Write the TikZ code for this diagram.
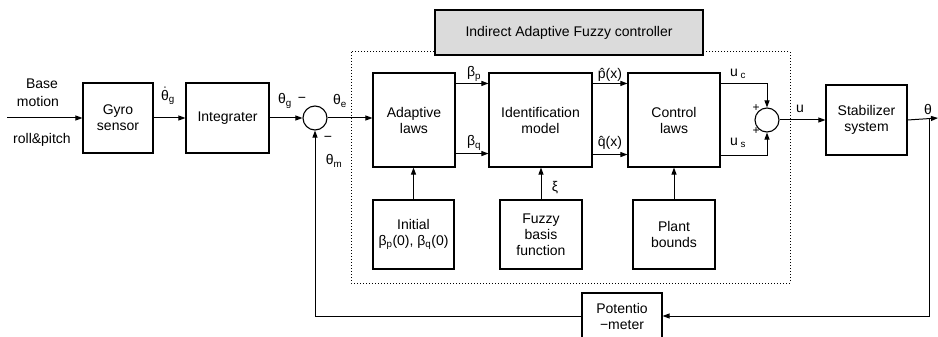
\documentclass[tikz,border=0pt]{standalone}
\usepackage{fontspec}
\setmainfont{Liberation Sans}
\usetikzlibrary{arrows.meta,positioning}
\newcommand{\lsub}[2]{#1\textsubscript{#2}}
\begin{document}
\begin{tikzpicture}[x=1pt,y=-1pt,
  font=\fontsize{14}{16}\selectfont,
  blk/.style={draw,line width=1.1pt,minimum width=#1,align=center,inner sep=1pt},
  sumc/.style={draw,line width=1.1pt,circle,minimum size=24pt,inner sep=0pt},
  lbl/.style={inner sep=0pt},
  conn/.style={line width=1pt,-{Triangle[length=7pt,width=5pt]}},
  wire/.style={line width=1pt}]
\useasboundingbox (0,0) rectangle (938,337);
% dotted controller frame
\draw[dotted,line width=1pt] (351,52) rectangle (790,283);
\node[draw,line width=1.1pt,fill=black!14,minimum width=268pt,minimum height=45pt] (title) at (569,32.5) {Indirect Adaptive Fuzzy controller};
% blocks
\node[blk=70pt,minimum height=70pt] (gyro) at (118,118) {Gyro\\sensor};
\node[blk=83pt,minimum height=70pt] (integ) at (227.5,118) {Integrater};
\node[sumc] (s1) at (315,118) {};
\node[blk=82pt,minimum height=94pt] (adapt) at (414,120) {Adaptive\\laws};
\node[blk=103pt,minimum height=94pt] (ident) at (540.5,120) {Identification\\model};
\node[blk=92pt,minimum height=94pt] (ctrl) at (674,120) {Control\\laws};
\node[sumc] (s2) at (767,120) {};
\node[blk=81pt,minimum height=70pt] (stab) at (866.5,120) {Stabilizer\\system};
\node[blk=81pt,minimum height=69pt] (init) at (413.5,234.5) {Initial\\\lsub{β}{p}(0), \lsub{β}{q}(0)};
\node[blk=82pt,minimum height=69pt] (fuzzy) at (541,234.5) {Fuzzy\\basis\\function};
\node[blk=82pt,minimum height=69pt] (plant) at (674,234.5) {Plant\\bounds};
\node[blk=80pt,minimum height=46pt] (pot) at (622,316) {Potentio\\−meter};
% coordinates
\coordinate (in) at (7,118);
\coordinate (out) at (938,118);
\coordinate (br) at (929,118);
% connectors
\draw[conn] (in) -- (gyro.west);
\draw[conn] (gyro.east) -- (integ.west);
\draw[conn] (integ.east) -- (s1.west);
\draw[conn] (s1.east) -- (adapt.west |- s1.east);
\draw[conn] ([yshift=-11pt]adapt.north east) -- ([yshift=-11pt]ident.north west);
\draw[conn] ([yshift=14pt]adapt.south east) -- ([yshift=14pt]ident.south west);
\draw[conn] ([yshift=-11pt]ident.north east) -- ([yshift=-11pt]ctrl.north west);
\draw[conn] ([yshift=13pt]ident.south east) -- ([yshift=13pt]ctrl.south west);
\draw[conn] ([yshift=-11pt]ctrl.north east) -| (s2.north);
\draw[conn] ([yshift=12pt]ctrl.south east) -| (s2.south);
\draw[conn] (s2.east) -- (stab.west |- s2.east);
\draw[conn] (stab.east) -- (out);
\draw[conn] (br) |- (pot.east);
\draw[conn] (pot.west) -| (s1.south);
\draw[conn] (init.north) -- (adapt.south -| init.north);
\draw[conn] (fuzzy.north) -- (ident.south -| fuzzy.north);
\draw[conn] (plant.north) -- (ctrl.south -| plant.north);
% labels
\node[lbl] (lb1) at (42,84) {Base};
\node[lbl] (lb2) at (38,101) {motion};
\node[lbl] (lb3) at (42,140) {roll\&pitch};
\node[lbl] (lthd) at (168,96) {\lsub{$\dot{\hbox{θ}}$}{g}};
\node[lbl] (lthg) at (285,101) {\lsub{θ}{g}};
\node[lbl] (lm1) at (302,100) {−};
\node[lbl] (lthe) at (340,101) {\lsub{θ}{e}};
\node[lbl] (lm2) at (328,139) {−};
\node[lbl] (lthm) at (334,161) {\lsub{θ}{m}};
\node[lbl] (lbp) at (474,74) {\lsub{β}{p}};
\node[lbl] (lbq) at (474,143) {\lsub{β}{q}};
\node[lbl] (lp) at (610,75) {p̂(x)};
\node[lbl] (lq) at (610,143) {q̂(x)};
\node[lbl] (luc) at (738,74) {\lsub{u}{ c}};
\node[lbl] (lus) at (738,143) {\lsub{u}{ s}};
\node[lbl,font=\fontsize{12}{12}\selectfont] (lp1) at (756,108) {+};
\node[lbl,font=\fontsize{12}{12}\selectfont] (lp2) at (756,131) {+};
\node[lbl] (lu) at (800,109) {u};
\node[lbl] (lth) at (928,109) {θ};
\node[lbl] (lxi) at (555,188) {ξ};
\end{tikzpicture}
\end{document}
